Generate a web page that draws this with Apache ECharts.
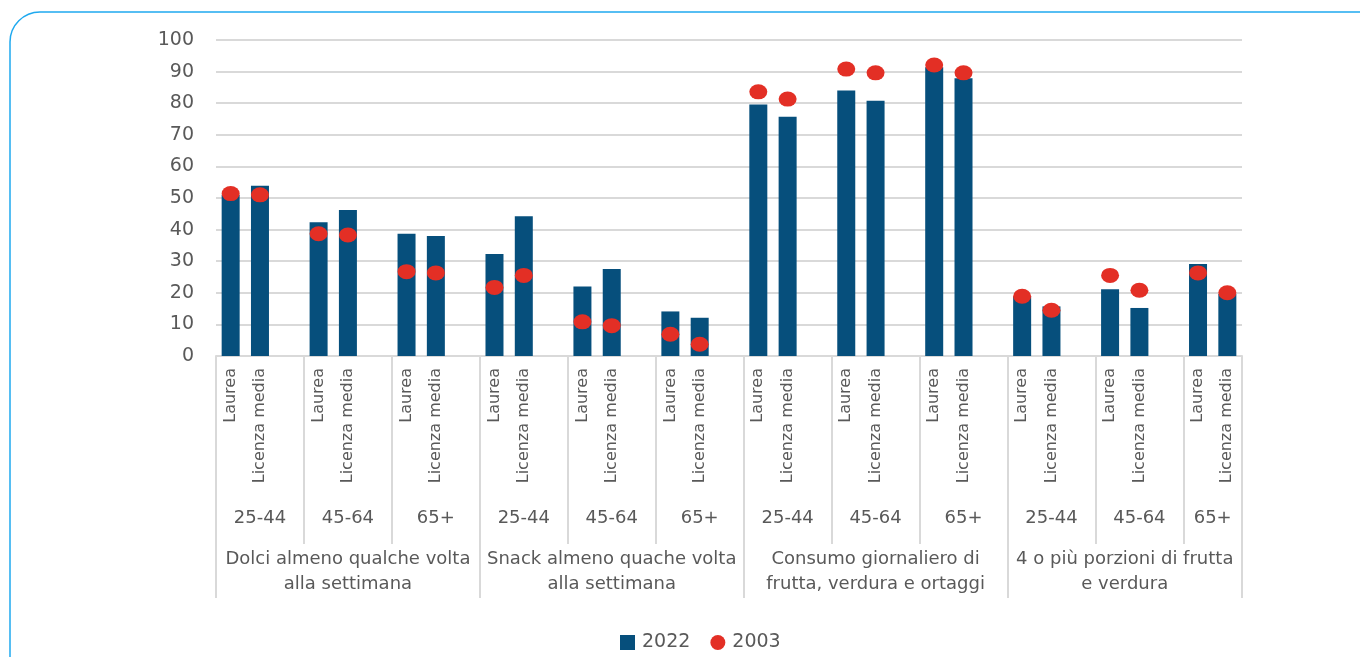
<!DOCTYPE html>
<html>
<head>
<meta charset="utf-8">
<script src="https://cdn.jsdelivr.net/npm/echarts@6/dist/echarts.min.js"></script>
<style>
  html, body { margin: 0; padding: 0; background: #fff; }
  #main { width: 1360px; height: 657px; }
</style>
</head>
<body>
<div id="main"></div>
<script>
// indicatori (livello 3), classi di età (livello 2), titolo di studio (livello 1)
const groups = [
  "Dolci almeno qualche volta\nalla settimana",
  "Snack almeno quache volta\nalla settimana",
  "Consumo giornaliero di\nfrutta, verdura e ortaggi",
  "4 o più porzioni di frutta\ne verdura",
];
const ages = ["25-44", "45-64", "65+"];
const edu = ["Laurea", "Licenza media"];

// valori in ordine: gruppo -> età -> Laurea, Licenza media
const v2022 = [
  51.0, 53.9, 42.3, 46.2, 38.7, 38.0,
  32.3, 44.2, 22.0, 27.5, 14.1, 12.1,
  79.6, 75.7, 84.0, 80.8, 91.4, 87.9,
  18.8, 15.7, 21.1, 15.2, 29.1, 19.6,
];
const v2003 = [
  51.4, 51.0, 38.7, 38.3, 26.7, 26.3,
  21.7, 25.5, 10.8, 9.6, 6.9, 3.7,
  83.6, 81.3, 90.8, 89.6, 92.1, 89.6,
  18.9, 14.5, 25.5, 20.8, 26.3, 20.0,
];

// slot: 2 barre + 1 vuoto per ogni età (l'ultimo vuoto è tagliato)
const slotLabels = [];
const bars = [];
const dots = [];
const ageTicks = [-0.5];
const ageCenters = [];
const groupTicks = [-0.5];
const groupCenters = [];
let k = 0;
groups.forEach((g, gi) => {
  const gStart = slotLabels.length;
  ages.forEach((a, ai) => {
    const start = slotLabels.length;
    edu.forEach((e) => {
      slotLabels.push(e);
      bars.push(v2022[k]);
      dots.push(v2003[k]);
      k++;
    });
    const last = gi === groups.length - 1 && ai === ages.length - 1;
    if (!last) {
      slotLabels.push("");
      bars.push("-");
      dots.push("-");
    }
    const end = slotLabels.length - 1;
    ageCenters.push((start + end) / 2);
    ageTicks.push(end + 0.5);
  });
  const gEnd = slotLabels.length - 1;
  groupCenters.push((gStart + gEnd) / 2);
  groupTicks.push(gEnd + 0.5);
});

const N = slotLabels.length;
const txt = "#595959";
const grey = "#d9d9d9";
const font = "DejaVu Sans";

const chart = echarts.init(document.getElementById("main"));
chart.setOption({
  animation: false,
  textStyle: { fontFamily: font, color: txt },
  graphic: [
    {
      type: "rect",
      silent: true,
      shape: { x: 10, y: 12, width: 1420, height: 720, r: 30 },
      style: { fill: "none", stroke: "#1fa9ef", lineWidth: 1.5 },
    },
  ],
  grid: { left: 216, right: 118, top: 40, bottom: 301 },
  legend: {
    top: 628,
    left: 615,
    itemWidth: 15,
    itemHeight: 15,
    itemGap: 20,
    textStyle: { fontFamily: font, fontSize: 19, color: txt, padding: [0, 0, 0, 2] },
    data: [
      { name: "2022", icon: "rect" },
      { name: "2003", icon: "circle" },
    ],
  },
  xAxis: [
    {
      type: "category",
      data: slotLabels.map((s, i) => "s" + i),
      axisLine: { show: true, lineStyle: { color: grey, width: 2 } },
      axisTick: { show: false },
      axisLabel: {
        interval: 0,
        rotate: 90,
        margin: 12,
        fontSize: 16,
        color: txt,
        fontFamily: font,
        formatter: (v, i) => slotLabels[i],
      },
    },
    {
      type: "value",
      min: -0.5,
      max: N - 0.5,
      position: "bottom",
      axisLine: { show: false },
      splitLine: { show: false },
      axisTick: {
        show: true,
        customValues: ageTicks,
        length: 188,
        lineStyle: { color: grey, width: 2 },
      },
      axisLabel: {
        customValues: ageCenters,
        margin: 153,
        fontSize: 18,
        color: txt,
        fontFamily: font,
        formatter: (v) => ages[ageCenters.indexOf(v) % 3],
      },
    },
    {
      type: "value",
      min: -0.5,
      max: N - 0.5,
      position: "bottom",
      axisLine: { show: false },
      splitLine: { show: false },
      axisTick: {
        show: true,
        customValues: groupTicks,
        length: 242,
        lineStyle: { color: grey, width: 2 },
      },
      axisLabel: {
        customValues: groupCenters,
        margin: 191,
        fontSize: 18,
        lineHeight: 25,
        color: txt,
        fontFamily: font,
        formatter: (v) => groups[groupCenters.indexOf(v)],
      },
    },
  ],
  yAxis: {
    type: "value",
    min: 0,
    max: 100,
    interval: 10,
    axisLine: { show: false },
    axisTick: { show: false },
    axisLabel: { margin: 22, fontSize: 19, color: txt, fontFamily: font },
    splitLine: { lineStyle: { color: grey, width: 2 } },
  },
  series: [
    {
      name: "2022",
      type: "bar",
      xAxisIndex: 0,
      barWidth: 18,
      itemStyle: { color: "#064f7c" },
      data: bars,
    },
    {
      name: "2003",
      type: "scatter",
      xAxisIndex: 0,
      symbol: "circle",
      symbolSize: [18, 15],
      itemStyle: { color: "#e32f25", opacity: 1 },
      z: 5,
      data: dots,
    },
  ],
});
</script>
</body>
</html>
